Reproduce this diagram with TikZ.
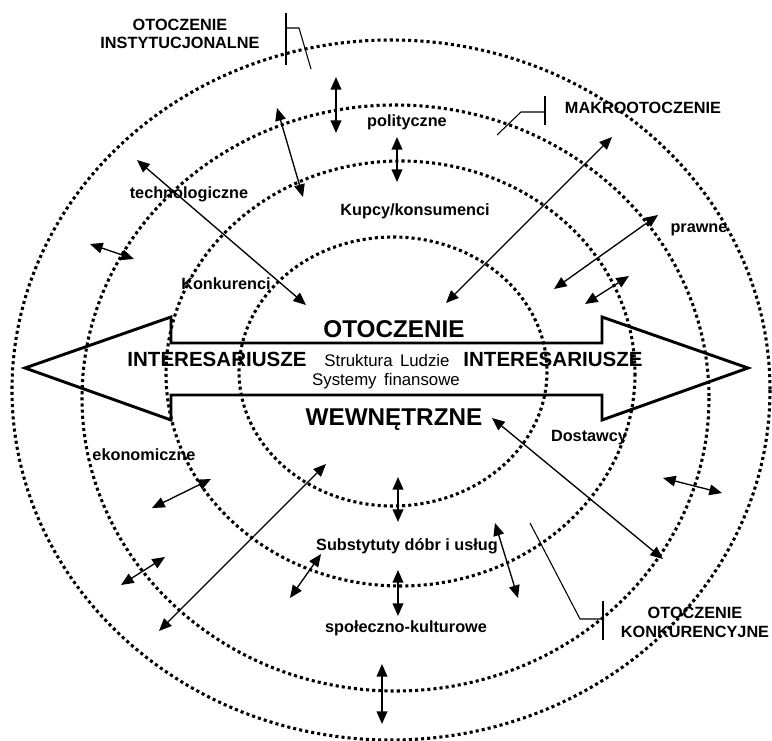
\documentclass[tikz,border=0pt]{standalone}
\usepackage{fontspec}
\setmainfont{Liberation Sans}
\usetikzlibrary{arrows.meta}
\tikzset{
  dotring/.style={line width=2.3pt, dash pattern=on 2.3pt off 2.3pt, line cap=butt},
  dbl/.style={{Triangle[length=9.5pt,width=8pt]}-{Triangle[length=9.5pt,width=8pt]}, line width=1pt},
  dblv/.style={dbl, line width=1.4pt},
  leader/.style={line width=0.8pt},
  bigarrow/.style={line width=2.2pt, line join=miter},
  lbl/.style={inner sep=0pt, anchor=base, font=\fontsize{12.2}{14}\selectfont\bfseries},
  bigtxt/.style={inner sep=0pt, anchor=base, font=\fontsize{18.2}{20}\selectfont\bfseries},
  midtxt/.style={inner sep=0pt, anchor=base, font=\fontsize{15.4}{18}\selectfont\bfseries},
  regtxt/.style={inner sep=0pt, anchor=base, font=\fontsize{12.6}{15}\selectfont}
}
\begin{document}
\begin{tikzpicture}[x=0.75pt, y=-0.75pt]
\useasboundingbox (0,0) rectangle (772,741);
% ellipses
\draw[dotring] (391,390) ellipse [x radius=379, y radius=350];
\draw[dotring] (395.5,398) ellipse [x radius=313.5, y radius=293];
\draw[dotring] (400.5,373.5) ellipse [x radius=234.5, y radius=212.5];
\draw[dotring] (393,371.5) ellipse [x radius=154, y radius=134.5];
% big double arrow
\draw[bigarrow] (25,368) -- (171,317) -- (171,343) -- (602,343) -- (602,317) -- (748,368)
  -- (602,420) -- (602,395) -- (171,395) -- (171,420) -- cycle;
% arrows
\draw[dblv] (336,77) -- (336,133);
\draw[dbl] (277,108) -- (303,197);
\draw[dblv] (397,137) -- (397,182);
\draw[dbl] (137,160) -- (306,305);
\draw[dbl] (90,244) -- (134,259);
\draw[dbl] (612,137) -- (446,303);
\draw[dbl] (658,215) -- (554,289);
\draw[dbl] (629,276) -- (585,304);
\draw[dbl] (663,478) -- (722,493);
\draw[dbl] (492,418) -- (663,559);
\draw[dbl] (211,479) -- (152,508);
\draw[dbl] (165,557) -- (121,585);
\draw[dbl] (326,464) -- (159,631);
\draw[dblv] (398,477) -- (398,522);
\draw[dbl] (321,554) -- (290,598);
\draw[dblv] (398,570) -- (398,616);
\draw[dbl] (495,523) -- (518,598);
\draw[dblv] (382,664) -- (382,724);
% leaders
\draw[leader] (286,13) -- (286,65);
\draw[leader] (286,28) -- (299,28) -- (311,69);
\draw[leader] (545,96) -- (545,125);
\draw[leader] (545,112) -- (521,112) -- (497,135);
\draw[leader] (603,601) -- (603,640);
\draw[leader] (603,619) -- (580,619) -- (530,523);
% labels
\node[lbl] (instA) at (180,31) {OTOCZENIE};
\node[lbl] (instB) at (180,49) {INSTYTUCJONALNE};
\node[lbl] (makro) at (643,114) {MAKROOTOCZENIE};
\node[lbl] (polit) at (407,127) {polityczne};
\node[lbl] (kupcy) at (415,216) {Kupcy/konsumenci};
\node[lbl] (techn) at (189,199) {technologiczne};
\node[lbl] (prawne) at (699,233) {prawne};
\node[lbl] (konk) at (226,290) {Konkurenci};
\node[bigtxt] (otocz) at (394,338) {OTOCZENIE};
\node[midtxt] (intL) at (217,367) {INTERESARIUSZE};
\node[midtxt] (intR) at (553,367) {INTERESARIUSZE};
\node[regtxt] (struk) at (387,367) {Struktura\ \,Ludzie};
\node[regtxt] (syst) at (386,386) {Systemy\ \,finansowe};
\node[bigtxt] (wewn) at (394,426) {WEWNĘTRZNE};
\node[lbl] (dost) at (589,442) {Dostawcy};
\node[lbl] (ekon) at (144,461) {ekonomiczne};
\node[lbl] (subst) at (407,551) {Substytuty dóbr i usług};
\node[lbl] (spol) at (406,633) {społeczno-kulturowe};
\node[lbl] (konkA) at (695,619) {OTOCZENIE};
\node[lbl] (konkB) at (695,638) {KONKURENCYJNE};
\end{tikzpicture}
\end{document}
